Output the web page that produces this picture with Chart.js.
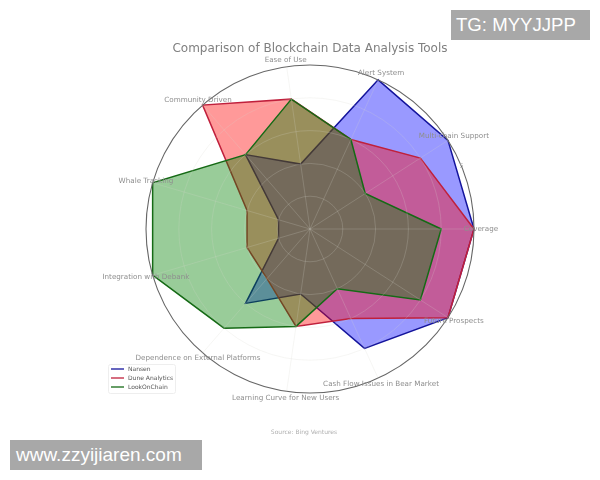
<!DOCTYPE html>
<html>
<head>
<meta charset="utf-8">
<script src="https://cdn.jsdelivr.net/npm/chart.js@4/dist/chart.umd.min.js"></script>
<style>
    html, body { margin: 0; padding: 0; background: #fff; }
    #wrap { position: relative; width: 600px; height: 480px; overflow: hidden; }
    .mark { position: absolute; background: #a8a8a8; color: #fff; font-family: "Liberation Sans", sans-serif; white-space: nowrap; }
</style>
</head>
<body>
<div id="wrap">
    <canvas id="myChart" width="600" height="480"></canvas>
    <div class="mark" style="left:451px;top:10px;width:134px;height:30px;line-height:30px;padding-left:5px;font-size:18.6px;">TG: MYYJJPP</div>
    <div class="mark" style="left:10px;top:440px;width:186px;height:30px;line-height:29px;padding-left:6px;font-size:19px;">www.zzyijiaren.com</div>
</div>
<script>
// clockwise from the right hand side
const labels = ["Coverage", "Future Prospects", "Cash Flow Issues in Bear Market", "Learning Curve for New Users",
    "Dependence on External Platforms", "Integration with Debank", "Whale Tracking", "Community Driven",
    "Ease of Use", "Alert System", "Multi-chain Support"];
const nansen = [5, 5, 4, 2, 3, 1, 1, 3, 2, 5, 5];
const dune = [5, 5, 3, 3, 2, 2, 2, 5, 4, 3, 4];
const lookOnChain = [4, 4, 2, 3, 4, 5, 5, 3, 4, 3, 2];
const rTicks = [1, 2, 3, 4, 5];

const FONT = '"DejaVu Sans", sans-serif';

const textPlugin = {
    id: "textPlugin",
    afterDraw(chart) {
        const ctx = chart.ctx;
        const r = chart.scales.r;
        const outer = r.getDistanceFromCenterForValue(rTicks[rTicks.length - 1]);

        ctx.save();
        ctx.textAlign = "center";
        ctx.textBaseline = "middle";

        // category labels sit just outside the circle, centred on their angle
        ctx.font = "7.2px " + FONT;
        ctx.fillStyle = "#8e8e8e";
        labels.forEach((label, i) => {
            const p = r.getPointPosition(i, outer + 7);
            ctx.fillText(label, p.x, p.y);
        });

        // only the outer radial tick can be read
        const t = r.getPointPosition(0, outer, -Math.PI / 8);
        ctx.font = "6.5px " + FONT;
        ctx.fillStyle = "#aaa";
        ctx.fillText(String(rTicks[rTicks.length - 1]), t.x, t.y);

        ctx.font = "6px " + FONT;
        ctx.fillStyle = "#b0b0b0";
        ctx.fillText("Source: Bing Ventures", 304, 432);

        // legend box
        ctx.strokeStyle = "#eee";
        ctx.fillStyle = "#fff";
        ctx.lineWidth = 1;
        ctx.beginPath();
        ctx.roundRect(108.5, 364.5, 67, 29, 2);
        ctx.fill();
        ctx.stroke();
        ctx.textAlign = "left";
        ctx.font = "6px " + FONT;
        chart.data.datasets.forEach((ds, i) => {
            const y = 369 + i * 9;
            ctx.strokeStyle = ds.borderColor;
            ctx.lineWidth = 1.3;
            ctx.beginPath();
            ctx.moveTo(111, y);
            ctx.lineTo(124, y);
            ctx.stroke();
            ctx.fillStyle = "#555";
            ctx.fillText(ds.label, 128, y);
        });
        ctx.restore();
    }
};

const ctx = document.getElementById("myChart");
new Chart(ctx, {
    type: "radar",
    data: {
        labels: labels,
        datasets: [
            { label: "Nansen", data: nansen, order: 3, borderColor: "#14149c", backgroundColor: "rgba(0,0,255,0.4)", fill: true, borderWidth: 1.5, pointRadius: 0 },
            { label: "Dune Analytics", data: dune, order: 2, borderColor: "#c0203c", backgroundColor: "rgba(255,0,0,0.4)", fill: true, borderWidth: 1.5, pointRadius: 0 },
            { label: "LookOnChain", data: lookOnChain, order: 1, borderColor: "#156a15", backgroundColor: "rgba(0,128,0,0.4)", fill: true, borderWidth: 1.5, pointRadius: 0 }
        ]
    },
    options: {
        responsive: false,
        animation: false,
        devicePixelRatio: 1,
        layout: { padding: { left: 146, right: 126, top: 42, bottom: 87 } },
        plugins: {
            legend: { display: false },
            tooltip: { enabled: false },
            title: {
                display: true,
                text: "Comparison of Blockchain Data Analysis Tools",
                fullSize: false,
                color: "#808080",
                font: { family: FONT, size: 12, weight: "normal" },
                padding: { top: 0, bottom: 8.6 }
            }
        },
        scales: {
            r: {
                min: 0,
                max: 5,
                startAngle: 90,
                ticks: { display: false, stepSize: 1 },
                pointLabels: { display: false },
                angleLines: { color: "rgba(215,215,205,0.22)", lineWidth: 1 },
                grid: {
                    z: 1,
                    circular: true,
                    color: c => c.tick.value === 5 ? "#666" : "rgba(215,215,205,0.22)",
                    lineWidth: c => c.tick.value === 5 ? 1.1 : 1
                }
            }
        }
    },
    plugins: [textPlugin]
});
</script>
</body>
</html>
